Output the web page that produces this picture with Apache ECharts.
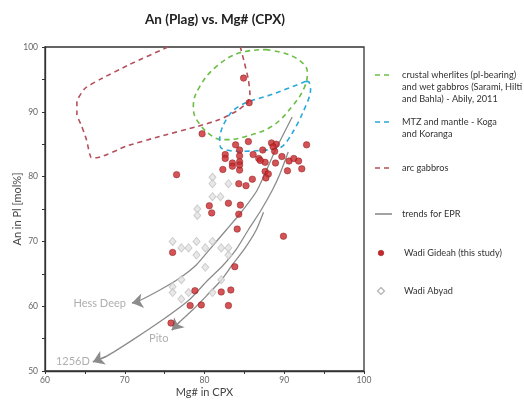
<!DOCTYPE html>
<html>
<head>
<meta charset="utf-8">
<script src="https://cdn.jsdelivr.net/npm/echarts@6/dist/echarts.min.js"></script>
<style>html,body{margin:0;padding:0;background:#fff}#c{width:524px;height:401px}</style>
</head>
<body>
<div id="c"></div>
<script>
// ---- data ----
const titleText = 'An (Plag) vs. Mg# (CPX)';
const xName = 'Mg# in CPX';
const yName = 'An in Pl [mol%]';

const wadiGideah = [
  [84.9,95.2],[85.6,91.4],[79.7,86.6],[76.5,80.3],[92.8,84.9],[83.9,84.9],[85.5,85.4],
  [88.4,85.2],[89.0,85.0],[88.6,84.6],[84.4,84.1],[82.6,83.4],[82.6,82.8],[84.4,83.2],
  [86.1,83.4],[87.3,84.1],[88.8,83.9],[89.7,83.1],[86.8,82.8],[87.6,82.2],[87.0,82.5],
  [88.9,82.1],[90.6,82.4],[91.2,82.8],[91.8,82.4],[83.5,82.1],[84.4,82.3],[83.5,81.6],
  [82.3,81.1],[84.4,81.0],[84.4,81.8],[90.4,80.9],[92.2,81.2],[87.6,80.8],[88.0,80.4],
  [87.7,79.8],[86.0,79.6],[84.3,78.9],[85.2,78.6],[83.0,75.9],[84.5,75.6],[80.6,75.5],
  [80.9,74.4],[84.3,74.2],[84.1,71.9],[89.9,70.8],[76.0,68.3],[83.8,66.1],[78.8,62.4],
  [82.1,62.2],[83.3,62.5],[78.2,60.1],[79.6,60.2],[83.0,60.1],[75.8,57.4]
];
const wadiAbyad = [
  [81.0,79.9],[81.0,78.9],[83.0,78.9],[81.0,76.9],[82.0,76.9],[79.1,75.0],[79.1,74.0],
  [76.0,70.0],[79.0,70.0],[81.0,70.0],[77.1,69.0],[78.0,69.0],[80.1,69.0],[82.1,69.0],
  [83.0,69.0],[79.0,67.9],[83.0,67.9],[80.1,66.0],[77.1,64.1],[82.1,64.1],[76.0,63.0],
  [76.0,62.1],[78.0,62.1],[81.0,62.1],[77.1,61.1]
];
const arcGabbros = [
  [75.4,100],[70.6,97.3],[66.9,95.0],[65.0,93.6],[64.0,91.6],[64.0,89.6],[64.6,87.8],
  [65.2,85.7],[65.8,82.9],[66.5,82.9],[70.2,84.7],[74.4,86.2],[79.0,87.7],[81.9,88.8],
  [84.0,90.1],[85.4,91.4],[85.7,92.7],[85.5,95.0],[85.0,97.6],[84.5,100]
];
const crustalWherlites = [
  [87.7,99.6],[90.6,98.8],[92.5,97.3],[92.9,96.0],[92.5,93.7],[91.0,90.85],[88.5,87.8],
  [85.2,86.2],[82.7,85.7],[81.0,86.2],[79.0,88.8],[78.6,90.85],[79.4,93.9],[81.5,97.0],
  [84.4,99.1],[87.7,99.6]
];
const mtzMantle = [
  [92.7,94.7],[88.5,92.7],[85.2,91.4],[83.5,90.1],[82.3,87.8],[81.9,85.7],[82.1,84.4],
  [84.4,83.9],[88.5,84.2],[89.8,84.7],[91.0,86.7],[92.3,89.8],[93.3,93.4],[93.1,94.6],[92.7,94.7]
];
const hessDeep = [
  [91.0,89.2],[88.9,84.1],[86.6,77.9],[84.6,74.5],[82.75,71.8],[80.6,68.7],[79.0,66.4],
  [76.9,64.35],[74.4,62.5],[71.5,60.65],[70.9,60.5]
];
const trend1256D = [
  [90.5,83.8],[89.4,80.25],[88.5,77.9],[87.1,74.85],[85.5,71.8],[84.0,68.8],[82.25,66.2],
  [80.4,64.0],[78.1,61.0],[74.75,57.9],[71.0,54.8],[67.75,52.3],[66.0,51.4]
];
const pito = [
  [87.4,74.5],[86.5,71.8],[85.1,69.0],[83.5,66.4],[82.1,64.0],[80.25,61.6],[78.5,59.4],
  [76.9,57.6],[75.9,56.3]
];
const trendNames = ['Hess Deep','1256D','Pito'];

const legendItems = [
  {kind:'dash', color:'#6cbd45', lines:['crustal wherlites (pl-bearing)','and wet gabbros (Sarami, Hilti','and Bahla) - Abily, 2011']},
  {kind:'dash', color:'#2aa8dc', lines:['MTZ and mantle - Koga','and Koranga']},
  {kind:'dash', color:'#b4505a', lines:['arc gabbros']},
  {kind:'solid', color:'#8c8c8c', lines:['trends for EPR']},
  {kind:'dot', color:'#c8282c', lines:['Wadi Gideah (this study)']},
  {kind:'diamond', color:'#cfcfcf', lines:['Wadi Abyad']}
];
const legendY = [75, 122, 168, 214, 253, 291];

// ---- chart ----
const chart = echarts.init(document.getElementById('c'));
const FONT = 'Lato, "Open Sans", sans-serif';
const GREY = '#8c8c8c';

function dashed(name, data, color, smooth){
  return {type:'line', name, data, smooth, showSymbol:false, symbol:'none', silent:true,
    lineStyle:{color, width:1.6, type:[5,4]}, z:2};
}
function trend(name, data){
  return {type:'line', name, data, smooth:0.2, showSymbol:false, symbol:'none', silent:true,
    lineStyle:{color:GREY, width:1.3}, z:3};
}
function arrow(data){
  const n = data.length;
  return {coords:[data[n-2], data[n-1]]};
}

const labelPts = [
  {value: hessDeep[hessDeep.length-1], label:{position:'left', distance:6}},
  {value: trend1256D[trend1256D.length-1], label:{position:'left', distance:3}},
  {value: pito[pito.length-1], label:{position:'bottom', distance:3, offset:[-13,0]}}
];

const graphics = [];
legendItems.forEach((it, i) => {
  const y = legendY[i];
  if (it.kind === 'dash' || it.kind === 'solid') {
    graphics.push({type:'line', shape:{x1:375, y1:y, x2:392, y2:y},
      style:{stroke:it.color, lineWidth:1.6, lineDash: it.kind==='dash' ? [5,4] : null}});
  } else if (it.kind === 'dot') {
    graphics.push({type:'circle', shape:{cx:381, cy:y, r:2.8}, style:{fill:it.color, stroke:'#8a1a1a', lineWidth:0.5}});
  } else {
    graphics.push({type:'polygon', shape:{points:[[381,y-3.5],[384.5,y],[381,y+3.5],[377.5,y]]},
      style:{fill:'#fff', stroke:'#b0b0b0', lineWidth:1.2}});
  }
  graphics.push({type:'text', x: (it.kind==='dot'||it.kind==='diamond') ? 404 : 402, y: y - 6,
    style:{text: it.lines.join('\n'), font:'9.2px ' + FONT, fill:'#333', lineHeight:12, verticalAlign:'top'}});
});

chart.setOption({
  animation:false,
  backgroundColor:'#fff',
  textStyle:{fontFamily:FONT},
  title:{text:titleText, left:210, top:8, textAlign:'center',
    textStyle:{fontSize:13.5, fontWeight:'bold', color:'#222', fontFamily:FONT}},
  grid:{left:45, right:160, top:47, bottom:30, show:true, borderColor:'#333', borderWidth:1.3,
    containLabel:false, outerBoundsMode:'none'},
  xAxis:{type:'value', min:60, max:100, interval:5, name:xName, nameLocation:'middle', nameGap:16,
    nameMoveOverlap:false,
    nameTextStyle:{fontSize:11, color:'#444', fontFamily:FONT},
    axisLine:{lineStyle:{color:'#333', width:1.3}},
    axisTick:{show:true, length:3, lineStyle:{color:'#333'}},
    axisLabel:{fontSize:8.5, color:'#666', margin:5, formatter:v => v % 10 === 0 ? String(v) : ''},
    splitLine:{show:false}},
  yAxis:{type:'value', min:50, max:100, interval:5, name:yName, nameLocation:'middle', nameGap:22,
    nameMoveOverlap:false,
    nameTextStyle:{fontSize:11, color:'#444', fontFamily:FONT},
    axisLine:{lineStyle:{color:'#333', width:1.3}},
    axisTick:{show:true, length:3, lineStyle:{color:'#333'}},
    axisLabel:{fontSize:8.5, color:'#666', margin:7, formatter:v => v % 10 === 0 ? String(v) : ''},
    splitLine:{show:false}},
  graphic: graphics,
  series:[
    dashed('arc gabbros', arcGabbros, '#b4505a', 0.15),
    dashed('crustal wherlites', crustalWherlites, '#6cbd45', 0.4),
    dashed('MTZ and mantle', mtzMantle, '#2aa8dc', 0.3),
    trend('Hess Deep', hessDeep),
    trend('1256D', trend1256D),
    trend('Pito', pito),
    {type:'lines', coordinateSystem:'cartesian2d', silent:true, z:3,
      symbol:['none','arrow'], symbolSize:[1,11],
      lineStyle:{color:GREY, width:1.3, opacity:1},
      data:[arrow(hessDeep), arrow(trend1256D), arrow(pito)]},
    {type:'scatter', name:'Wadi Abyad', data:wadiAbyad, symbol:'diamond', symbolSize:[7,8], z:4,
      itemStyle:{color:'#e2e2e2', borderColor:'#c4c4c4', borderWidth:1}},
    {type:'scatter', name:'Wadi Gideah', data:wadiGideah, symbol:'circle', symbolSize:6.5, z:5,
      itemStyle:{color:'#c8282c', borderColor:'#8a1a1a', borderWidth:0.6}},
    {type:'scatter', name:'trend labels', data:labelPts.map((p,i)=>({value:p.value, label:Object.assign({formatter:trendNames[i]}, p.label)})),
      symbolSize:0, silent:true, z:6,
      label:{show:true, color:'#9a9a9a', fontSize:11, fontFamily:FONT}}
  ]
});
</script>
</body>
</html>
